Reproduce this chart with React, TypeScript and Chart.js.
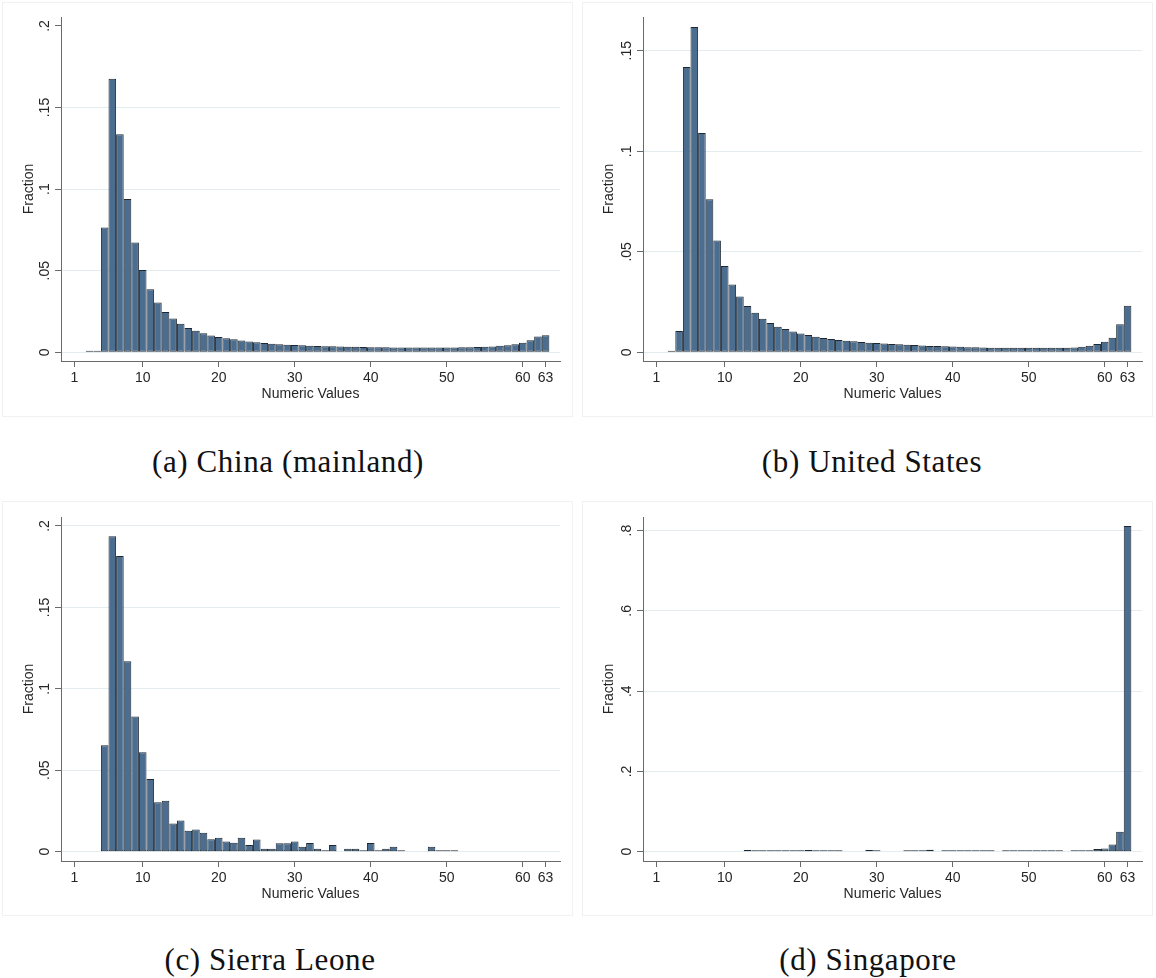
import React, { useEffect, useRef } from 'react';
import { Chart, registerables } from 'chart.js';

Chart.register(...registerables);
Chart.defaults.font.family = '"Liberation Sans", Arial, sans-serif';

// ---------- shared axis data ----------
const xTickValues = [1, 10, 20, 30, 40, 50, 60, 63];
const xAxisTitle = 'Numeric Values';
const yAxisTitle = 'Fraction';

// ---------- (a) China (mainland) ----------
const chinaBins = [3, 4, 5, 6, 7, 8, 9, 10, 11, 12, 13, 14, 15, 16, 17, 18, 19, 20, 21, 22, 23, 24, 25, 26, 27, 28, 29, 30, 31, 32, 33, 34, 35, 36, 37, 38, 39, 40, 41, 42, 43, 44, 45, 46, 47, 48, 49, 50, 51, 52, 53, 54, 55, 56, 57, 58, 59, 60, 61, 62, 63];
const chinaFraction = [
  0.0005, 0.001, 0.0765, 0.1677, 0.1337, 0.0939, 0.0673, 0.0505, 0.0387, 0.0305,
  0.0247, 0.0207, 0.0176, 0.0149, 0.0133, 0.0117, 0.0104, 0.0094, 0.0086, 0.008,
  0.0072, 0.0066, 0.0062, 0.0057, 0.0052, 0.005, 0.0047, 0.0045, 0.0043, 0.0041,
  0.0039, 0.0038, 0.0037, 0.0036, 0.0035, 0.0034, 0.0033, 0.0032, 0.0031, 0.0031,
  0.003, 0.003, 0.0029, 0.0029, 0.0029, 0.0029, 0.0029, 0.003, 0.003, 0.0031,
  0.0032, 0.0033, 0.0034, 0.0036, 0.004, 0.0044, 0.005, 0.0059, 0.0074, 0.0097, 0.0105,
];
const chinaYTicks = [0, 0.05, 0.1, 0.15, 0.2];
const chinaYLabels = ['0', '.05', '.1', '.15', '.2'];

// ---------- (b) United States ----------
const usBins = [3, 4, 5, 6, 7, 8, 9, 10, 11, 12, 13, 14, 15, 16, 17, 18, 19, 20, 21, 22, 23, 24, 25, 26, 27, 28, 29, 30, 31, 32, 33, 34, 35, 36, 37, 38, 39, 40, 41, 42, 43, 44, 45, 46, 47, 48, 49, 50, 51, 52, 53, 54, 55, 56, 57, 58, 59, 60, 61, 62, 63];
const usFraction = [
  0.0003, 0.0106, 0.1419, 0.1618, 0.1091, 0.0762, 0.0556, 0.043, 0.0338, 0.0278,
  0.023, 0.0197, 0.0167, 0.0146, 0.0127, 0.0116, 0.0104, 0.0094, 0.0086, 0.0078,
  0.0071, 0.0066, 0.0061, 0.0058, 0.0055, 0.0051, 0.0048, 0.0047, 0.0044, 0.0042,
  0.004, 0.0038, 0.0036, 0.0034, 0.0032, 0.0031, 0.003, 0.0029, 0.0028, 0.0026,
  0.0025, 0.0024, 0.0023, 0.0023, 0.0023, 0.0023, 0.0023, 0.0023, 0.0023, 0.0023,
  0.0023, 0.0023, 0.0023, 0.0024, 0.0028, 0.0033, 0.0042, 0.0053, 0.0073, 0.014, 0.0232,
];
const usYTicks = [0, 0.05, 0.1, 0.15];
const usYLabels = ['0', '.05', '.1', '.15'];

// ---------- (c) Sierra Leone ----------
const sierraBins = [5, 6, 7, 8, 9, 10, 11, 12, 13, 14, 15, 16, 17, 18, 19, 20, 21, 22, 23, 24, 25, 26, 27, 28, 29, 30, 31, 32, 33, 34, 35, 36, 37, 38, 39, 40, 41, 42, 43, 44, 45, 46, 47, 48, 49, 50, 51];
const sierraFraction = [
  0.0654, 0.1937, 0.1816, 0.117, 0.083, 0.0611, 0.0446, 0.0303, 0.0313, 0.0174,
  0.0192, 0.0129, 0.0137, 0.0117, 0.0076, 0.0086, 0.0062, 0.0055, 0.0085, 0.0042,
  0.0075, 0.0018, 0.0018, 0.0052, 0.0052, 0.0063, 0.003, 0.0053, 0.0018, 0.0008,
  0.0042, null, 0.0018, 0.0018, 0.0008, 0.0053, 0.0008, 0.0018, 0.003, 0.0008,
  null, null, null, 0.003, 0.0008, 0.0008, 0.0008,
];
const sierraYTicks = [0, 0.05, 0.1, 0.15, 0.2];
const sierraYLabels = ['0', '.05', '.1', '.15', '.2'];

// ---------- (d) Singapore ----------
const singaporeBins = [13, 14, 15, 16, 17, 18, 19, 20, 21, 22, 23, 24, 25, 26, 27, 28, 29, 30, 31, 32, 33, 34, 35, 36, 37, 38, 39, 40, 41, 42, 43, 44, 45, 46, 47, 48, 49, 50, 51, 52, 53, 54, 55, 56, 57, 58, 59, 60, 61, 62, 63];
const singaporeFraction = [
  0.004, 0.0005, 0.0005, 0.0005, 0.0005, 0.0005, 0.0005, 0.0005, 0.004, 0.0005,
  0.0005, 0.0005, 0.0005, null, null, null, 0.004, 0.0005, null, null,
  null, 0.0005, 0.0005, 0.002, 0.005, null, 0.0005, 0.003, 0.0005, 0.0005,
  0.0005, 0.0005, 0.002, null, 0.0005, 0.003, 0.0005, 0.003, 0.0005, 0.002,
  0.002, 0.0005, null, 0.0005, 0.0015, 0.0025, 0.0065, 0.008, 0.018, 0.05, 0.8115,
];
const singaporeYTicks = [0, 0.2, 0.4, 0.6, 0.8];
const singaporeYLabels = ['0', '.2', '.4', '.6', '.8'];

// ---------- styles ----------
const BAR_FILL = '#4a6d90';
const BAR_EDGE = '#1d2833';
const AXIS_COLOR = '#6a6a6a';
const GRID_COLOR = '#e3ecef';
const TEXT_COLOR = '#262626';
const CANVAS_H = 420;

const rotatedYLabels = {
  id: 'rotatedYLabels',
  afterDraw(chart: any, _args: any, opts: any) {
    const { ctx } = chart;
    const scale = chart.scales.y;
    ctx.save();
    ctx.font = '14px "Liberation Sans", Arial, sans-serif';
    ctx.fillStyle = TEXT_COLOR;
    ctx.textAlign = 'center';
    ctx.textBaseline = 'middle';
    (opts.values as number[]).forEach((v, i) => {
      const py = scale.getPixelForValue(v);
      ctx.save();
      ctx.translate(opts.x, py);
      ctx.rotate(-Math.PI / 2);
      ctx.fillText(opts.labels[i], 0, 0);
      ctx.restore();
    });
    ctx.restore();
  },
};

type PanelProps = {
  left: number;
  top: number;
  width: number;
  yAxisWidth: number;
  rightPad: number;
  bins: number[];
  values: (number | null)[];
  yMin: number;
  yMax: number;
  yTicks: number[];
  yLabels: string[];
  noGridAt: number[];
  minBar: number;
};

function Panel(p: PanelProps) {
  const ref = useRef<HTMLCanvasElement>(null);
  useEffect(() => {
    const chart = new Chart(ref.current as HTMLCanvasElement, {
      type: 'bar',
      data: {
        datasets: [
          {
            data: p.bins.map((b, i) => ({ x: b, y: p.values[i] })) as any,
            backgroundColor: BAR_FILL,
            borderColor: BAR_EDGE,
            borderWidth: 1,
            borderSkipped: false,
            barPercentage: 1,
            categoryPercentage: 1,
            inflateAmount: 0,
            minBarLength: p.minBar,
          } as any,
        ],
      },
      options: {
        responsive: false,
        animation: false,
        devicePixelRatio: 1,
        layout: { padding: { left: 0, right: p.rightPad, top: 17, bottom: 0 } },
        plugins: {
          legend: { display: false },
          tooltip: { enabled: false },
          rotatedYLabels: { values: p.yTicks, labels: p.yLabels, x: p.yAxisWidth - 16 },
        } as any,
        scales: {
          x: {
            type: 'linear',
            min: -0.75,
            max: 64.9,
            offset: false,
            afterBuildTicks: (s: any) => {
              s.ticks = xTickValues.map((v) => ({ value: v }));
            },
            afterFit: (s: any) => {
              s.height = CANVAS_H - 361;
            },
            ticks: { font: { size: 14 }, color: TEXT_COLOR, padding: 3, maxRotation: 0, autoSkip: false },
            grid: { offset: false, drawOnChartArea: false, drawTicks: true, tickLength: 6, tickColor: AXIS_COLOR },
            border: { color: AXIS_COLOR, width: 1 },
            title: {
              display: true,
              text: xAxisTitle,
              font: { size: 14 },
              color: TEXT_COLOR,
              padding: { top: 0, bottom: 17 },
            },
          },
          y: {
            type: 'linear',
            min: p.yMin,
            max: p.yMax,
            afterBuildTicks: (s: any) => {
              s.ticks = p.yTicks.map((v) => ({ value: v }));
            },
            afterFit: (s: any) => {
              s.width = p.yAxisWidth;
            },
            ticks: { display: false },
            grid: {
              color: (c: any) =>
                c.tick && p.noGridAt.includes(c.tick.value) ? 'rgba(0,0,0,0)' : GRID_COLOR,
              drawTicks: true,
              tickLength: 6,
              tickColor: AXIS_COLOR,
            },
            border: { color: AXIS_COLOR, width: 1 },
            title: {
              display: true,
              text: yAxisTitle,
              font: { size: 14 },
              color: TEXT_COLOR,
              padding: { top: 21, bottom: 0 },
            },
          },
        },
      },
      plugins: [rotatedYLabels],
    });
    return () => chart.destroy();
  }, []);
  return (
    <canvas
      ref={ref}
      width={p.width}
      height={CANVAS_H}
      style={{ position: 'absolute', left: p.left, top: p.top, width: p.width, height: CANVAS_H }}
    />
  );
}

const captionStyle = (cx: number, cy: number): React.CSSProperties => ({
  position: 'absolute',
  left: cx,
  top: cy,
  transform: 'translate(-50%, -50%)',
  fontFamily: '"Liberation Serif", "Times New Roman", serif',
  fontSize: 31,
  letterSpacing: 0.6,
  whiteSpace: 'nowrap',
  color: '#111',
});

const frameStyle = (l: number, t: number): React.CSSProperties => ({
  position: 'absolute',
  left: l,
  top: t,
  width: 571,
  height: 415,
  border: '1px solid #f1f1f1',
  boxSizing: 'border-box',
});

export default function App() {
  return (
    <div style={{ position: 'absolute', left: 0, top: 0, width: 1156, height: 978, background: '#fff' }}>
      <div style={frameStyle(2, 2)} />
      <div style={frameStyle(582, 2)} />
      <div style={frameStyle(2, 501)} />
      <div style={frameStyle(582, 501)} />
      <Panel left={0} top={0} width={580} yAxisWidth={61} rightPad={20} bins={chinaBins} values={chinaFraction}
        yMin={-0.0053} yMax={0.2055} yTicks={chinaYTicks} yLabels={chinaYLabels} noGridAt={[0.2]} minBar={1.5} />
      <Panel left={580} top={0} width={576} yAxisWidth={63} rightPad={14} bins={usBins} values={usFraction}
        yMin={-0.0043} yMax={0.1668} yTicks={usYTicks} yLabels={usYLabels} noGridAt={[]} minBar={1.5} />
      <Panel left={0} top={500} width={580} yAxisWidth={61} rightPad={20} bins={sierraBins} values={sierraFraction}
        yMin={-0.0057} yMax={0.2055} yTicks={sierraYTicks} yLabels={sierraYLabels} noGridAt={[]} minBar={1.5} />
      <Panel left={580} top={500} width={576} yAxisWidth={63} rightPad={14} bins={singaporeBins} values={singaporeFraction}
        yMin={-0.0231} yMax={0.834} yTicks={singaporeYTicks} yLabels={singaporeYLabels} noGridAt={[]} minBar={1.5} />
      <div style={captionStyle(288, 462)}>(a) China (mainland)</div>
      <div style={captionStyle(872, 462)}>(b) United States</div>
      <div style={captionStyle(270, 960)}>(c) Sierra Leone</div>
      <div style={captionStyle(868, 960)}>(d) Singapore</div>
    </div>
  );
}
